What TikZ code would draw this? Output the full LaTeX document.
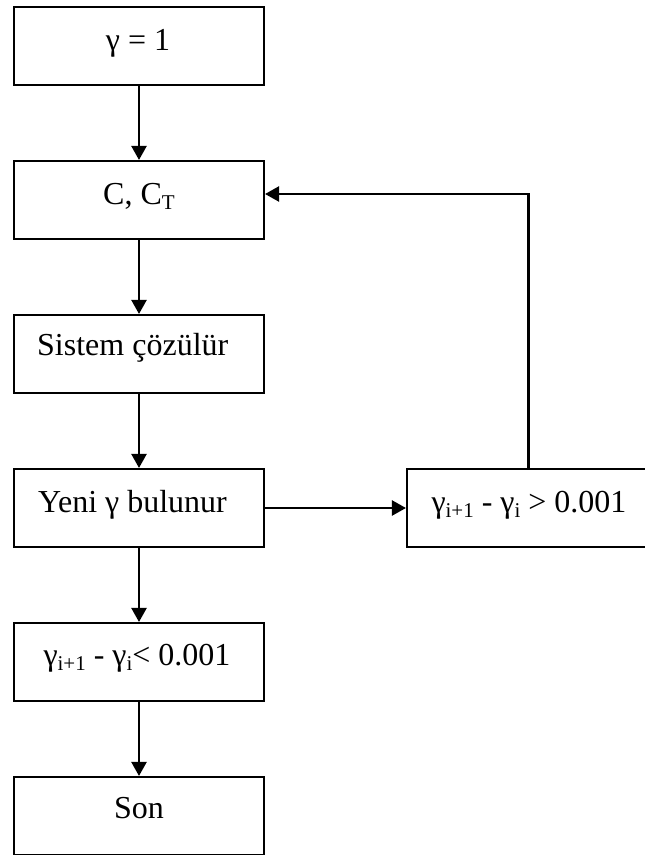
\documentclass[tikz,border=0pt]{standalone}
\usepackage{fontspec}
\setmainfont{Liberation Serif}
\usetikzlibrary{arrows.meta}
\newcommand{\sbx}[1]{\raisebox{-5pt}{\fontsize{21}{21}\selectfont #1}}
\tikzset{
  box/.style={draw, line width=2.1pt, minimum width=250pt, minimum height=78pt, inner sep=0pt},
  rbox/.style={draw, line width=2.1pt, minimum width=243pt, minimum height=78pt, inner sep=0pt},
  txt/.style={inner sep=0pt, font=\fontsize{32}{36}\selectfont},
  arr/.style={line width=2.3pt, -{Triangle[length=14pt,width=15pt]}}
}
\begin{document}
\begin{tikzpicture}[x=1pt,y=-1pt]
\clip (0,0) rectangle (645,855);
\fill[white] (0,0) rectangle (645,855);
% boxes
\node[box] (b1) at (139,46) {};
\node[box] (b2) at (139,200) {};
\node[box] (b3) at (139,354) {};
\node[box] (b4) at (139,508) {};
\node[box] (b5) at (139,662) {};
\node[box] (b6) at (139,816) {};
\node[rbox] (r) at (528.5,508) {};
% texts
\node[txt, anchor=base] (t1) at (138,50) {γ = 1};
\node[txt, anchor=base] (t2) at (139,204) {C, C\sbx{T}};
\node[txt, anchor=base west] (t3) at (37,355) {Sistem çözülür};
\node[txt, anchor=base west] (t4) at (38,512) {Yeni γ bulunur};
\node[txt, anchor=base] (t5) at (137,665) {γ\sbx{i+1} - γ\sbx{i}< 0.001};
\node[txt, anchor=base] (t6) at (139,818) {Son};
\node[txt, anchor=base] (t7) at (529,512) {γ\sbx{i+1} - γ\sbx{i} > 0.001};
% connectors
\draw[arr] (b1.south) -- (b2.north);
\draw[arr] (b2.south) -- (b3.north);
\draw[arr] (b3.south) -- (b4.north);
\draw[arr] (b4.south) -- (b5.north);
\draw[arr] (b5.south) -- (b6.north);
\draw[arr] (b4.east) -- (r.west);
\draw[arr] (r.north) |- ([yshift=6pt]b2.east);
\end{tikzpicture}
\end{document}
